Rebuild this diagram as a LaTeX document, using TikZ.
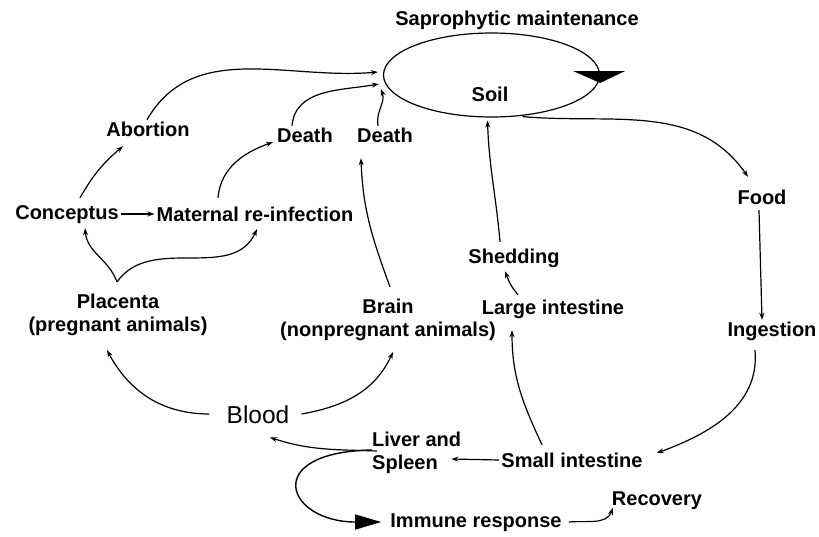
\documentclass[tikz,border=0pt]{standalone}
\usepackage{fontspec}
\setmainfont{Liberation Sans}
\usetikzlibrary{arrows.meta,shapes.geometric}
\begin{document}
\begin{tikzpicture}[x=1pt,y=1pt,
  lbl/.style={font=\fontsize{20}{23}\selectfont\bfseries, inner sep=2pt, text height=14pt, text depth=4pt},
  lbltwo/.style={font=\fontsize{20}{23}\selectfont\bfseries, inner sep=2pt, align=center},
  conn/.style={line width=1.2pt, -{Stealth[length=7pt,width=5pt]}},
  bigarrow/.style={line width=1.4pt, -{Triangle[length=26pt,width=15pt]}},
]
\useasboundingbox (0,0) rectangle (819,-536);
\fill[white] (0,0) rectangle (819,-536);

\node[lbl] (sap) at (517,-20) {Saprophytic maintenance};
\node[draw, ellipse, line width=1.2pt, minimum width=216pt, minimum height=84pt, inner sep=0pt] (ell) at (491.5,-75) {};
\node[lbl] (soil) at (490,-96) {Soil};
\node[lbl] (abort) at (148,-131) {Abortion};
\node[lbl] (deathL) at (305,-137) {Death};
\node[lbl] (deathR) at (385,-137) {Death};
\node[lbl] (concep) at (67,-214) {Conceptus};
\node[lbl] (mat) at (255,-216) {Maternal re-infection};
\node[lbl] (food) at (762,-199) {Food};
\node[lbl] (shed) at (514,-258) {Shedding};
\node[lbltwo] (plac) at (118,-315) {Placenta\\(pregnant animals)};
\node[lbltwo] (brain) at (388,-320) {Brain\\(nonpregnant animals)};
\node[lbl] (large) at (553,-309) {Large intestine};
\node[lbl] (ingest) at (772,-331) {Ingestion};
\node[font=\fontsize{24.5}{28}\selectfont, inner sep=2pt, text height=17.5pt, text depth=5pt] (blood) at (258,-417) {Blood};
\node[lbltwo, align=left, anchor=west] (liver) at (370,-453) {Liver and\\Spleen};
\node[lbl] (small) at (572,-462) {Small intestine};
\node[lbl] (recov) at (657,-500) {Recovery};
\node[lbl] (immune) at (476,-522) {Immune response};

\draw[conn] ([shift={(-1,0)}]abort.north) to[out=60,in=185] ([shift={(-5,3)}]ell.west);
\draw[conn] ([shift={(-13,0)}]deathL.north) to[out=85,in=190] ([shift={(-4,-9)}]ell.west);
\draw[conn] ([shift={(-7,0)}]deathR.north) to[out=100,in=-70] ([shift={(-2,-14)}]ell.west);
\draw[conn] ([shift={(13,5)}]concep.north) to[bend left=10] ([shift={(-25,-4)}]abort.south);
\draw[conn] (concep.east) -- (concep.east -| mat.west);
\draw[conn] ([shift={(-37,7)}]mat.north) to[out=85,in=200] ([shift={(-2,-5)}]deathL.west);
\draw[conn] ([shift={(-1,10)}]plac.north) to[out=110,in=-85] ([shift={(18,-3)}]concep.south);
\draw[conn] ([shift={(-1,10)}]plac.north) to[out=55,in=-115] ([shift={(2,-2)}]mat.south);
\draw[conn] ([shift={(2,10)}]brain.north) to[out=110,in=-88] ([shift={(-24,-10)}]deathR.south);
\draw[conn] ([shift={(31,1)}]ell.south) to[out=-5,in=125] ([shift={(-14,11)}]food.north);
\draw[conn] ([xshift=-3pt]food.south) -- ([xshift=-10pt]ingest.north);
\draw[conn] ([shift={(-17,-8)}]ingest.south) to[out=-85,in=20] ([shift={(12,9)}]small.east);
\draw[conn] ([shift={(-30,6)}]small.north) to[out=115,in=-90] ([shift={(-41,-10)}]large.south);
\draw[conn] ([shift={(-35,3)}]large.north) to[out=130,in=-70] ([shift={(-9,-2)}]shed.south);
\draw[conn] ([shift={(-14,5)}]shed.north) to[out=95,in=-88] ([shift={(-4,-3)}]ell.south);
\draw[conn] ([shift={(-15,3)}]blood.west) to[out=180,in=-62] ([shift={(-11,-12)}]plac.south);
\draw[conn] ([shift={(10,3)}]blood.east) to[out=10,in=-115] ([shift={(5,-9)}]brain.south);
\draw[conn] ([shift={(7,2)}]liver.west) to[out=178,in=-18] ([shift={(12,-7)}]blood.south);
\draw[conn] ([shift={(0,2)}]small.west) -- ([shift={(-12,-6)}]liver.east);
\draw[bigarrow] ([shift={(2,3)}]liver.west) .. controls +(-112,-2) and +(-95,0) .. ([xshift=-7pt]immune.west);
\draw[conn] ([xshift=5pt]immune.east) to[out=5,in=-110] ([shift={(3,-8)}]recov.west);
\fill (ell.east) ++(-27,4) -- ++(52,0) -- ++(-25,-12) -- cycle;
\end{tikzpicture}
\end{document}
